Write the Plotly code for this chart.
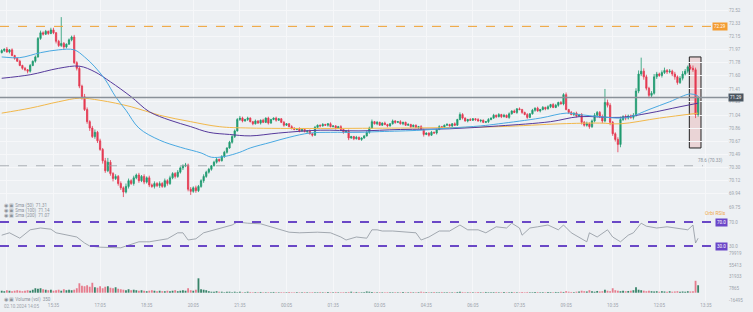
import plotly.graph_objects as go
from plotly.subplots import make_subplots

# ---------------- data ----------------
close = [
    71.95, 71.97, 71.93, 71.96, 71.88, 71.84, 71.80, 71.74, 71.70, 71.68,
    71.66, 71.74, 71.80, 71.86, 72.12, 72.20, 72.18, 72.22, 72.19, 72.24,
    72.20, 72.08, 72.02, 72.05, 72.00, 72.04, 72.10, 72.14, 71.78, 71.70,
    71.45, 71.30, 71.12, 70.95, 70.86, 70.74, 70.80, 70.68, 70.56, 70.40,
    70.26, 70.38, 70.22, 70.15, 70.18, 70.08, 70.02, 69.96, 70.04, 70.12,
    70.08, 70.16, 70.20, 70.12, 70.18, 70.10, 70.16, 70.06, 70.04, 70.08,
    70.05, 70.08, 70.04, 70.12, 70.08, 70.16, 70.22, 70.18, 70.24, 70.30,
    70.33, 70.34, 70.00, 69.97, 70.02, 69.98, 70.04, 70.12, 70.18, 70.24,
    70.28, 70.33, 70.38, 70.42, 70.40, 70.46, 70.52, 70.58, 70.66, 70.74,
    70.82, 70.98, 71.00, 70.96, 70.98, 71.00, 70.95, 70.92, 70.96, 70.93,
    70.97, 70.94, 71.00, 70.93, 70.98, 71.00, 70.97, 70.99, 70.94, 70.90,
    70.92, 70.88, 70.86, 70.84, 70.85, 70.82, 70.84, 70.81, 70.82, 70.78,
    70.76, 70.87, 70.90, 70.89, 70.91, 70.90, 70.92, 70.88, 70.89, 70.86,
    70.88, 70.84, 70.80, 70.82, 70.72, 70.74, 70.71, 70.73, 70.70, 70.72,
    70.75, 70.80, 70.86, 70.95, 70.92, 70.94, 70.90, 70.93, 70.91, 70.89,
    70.92, 70.96, 70.94, 70.95, 70.92, 70.94, 70.90, 70.91, 70.88, 70.90,
    70.87, 70.88, 70.84, 70.77, 70.79, 70.76, 70.80, 70.79, 70.84, 70.88,
    70.87, 70.90, 70.91, 70.89, 70.92, 70.90, 70.98, 71.05, 71.00, 70.96,
    70.98, 70.97, 70.99, 70.98, 70.96, 70.97, 70.94, 70.95, 70.98, 71.00,
    71.04, 71.02, 71.05, 71.02, 71.04, 71.01, 71.06, 71.10, 71.08, 71.13,
    71.12, 71.08, 71.05, 71.01, 71.06, 71.11, 71.14, 71.10, 71.12, 71.15,
    71.13, 71.16, 71.19, 71.15, 71.18, 71.22, 71.20, 71.33, 71.12, 71.08,
    71.05, 71.07, 71.03, 71.05, 70.94, 70.90, 70.92, 70.88, 70.96, 71.04,
    71.08, 71.02, 70.96, 71.22, 71.18, 70.94, 70.78, 70.70, 70.63, 70.98,
    71.02, 71.00, 71.03, 71.01, 71.04, 71.38, 71.62, 71.66, 71.58, 71.42,
    71.32, 71.35, 71.58, 71.62, 71.60, 71.64, 71.67, 71.65, 71.66, 71.62,
    71.58, 71.50, 71.56, 71.62, 71.66, 71.72, 71.70, 71.68, 71.05, 71.29,
]
first_open = 71.92

# wick lengths above / below the body, in hundredths
wick_up = [
    2, 1, 3, 1, 2, 1, 1, 2, 1, 2, 1, 2, 1, 2, 2, 3, 2, 2, 1, 3, 3, 1, 2, 37, 2, 1, 2, 2, 3, 2,
    3, 2, 4, 3, 2, 3, 4, 2, 3, 2, 4, 6, 3, 2, 3, 2, 3, 2, 4, 3, 2, 3, 2, 3, 2, 3, 2, 3, 2, 3,
    2, 3, 2, 3, 2, 3, 2, 2, 3, 2, 2, 3, 2, 3, 2, 3, 2, 2, 3, 2, 2, 1, 2, 2, 1, 2, 2, 1, 2, 2,
    2, 2, 3, 2, 1, 2, 1, 1, 2, 1, 1, 2, 1, 2, 1, 1, 2, 1, 1, 2, 1, 1, 2, 1, 1, 2, 1, 1, 1, 2,
    1, 2, 1, 1, 2, 1, 1, 2, 1, 1, 1, 2, 1, 1, 2, 1, 1, 2, 1, 1, 1, 2, 2, 3, 1, 2, 1, 1, 2, 1,
    1, 2, 1, 1, 2, 1, 1, 2, 1, 1, 1, 1, 2, 1, 1, 1, 2, 1, 1, 2, 1, 1, 2, 1, 1, 2, 1, 3, 2, 1,
    1, 2, 1, 1, 2, 1, 1, 1, 2, 1, 2, 1, 2, 1, 2, 1, 2, 1, 2, 1, 2, 1, 1, 2, 1, 2, 1, 2, 1, 2,
    1, 2, 1, 2, 2, 1, 2, 2, 3, 1, 2, 1, 2, 1, 2, 2, 3, 2, 2, 3, 2, 2, 3, 19, 4, 3, 2, 2, 3, 4,
    2, 3, 2, 2, 3, 4, 5, 19, 4, 3, 2, 3, 4, 3, 2, 3, 4, 2, 3, 2, 3, 2, 3, 4, 3, 2, 3, 4, 3, 2,
]
wick_dn = [
    1, 2, 1, 2, 1, 2, 1, 1, 2, 2, 3, 2, 1, 2, 1, 2, 2, 1, 2, 1, 2, 3, 2, 2, 3, 2, 1, 2, 2, 3,
    3, 4, 2, 3, 4, 2, 3, 3, 2, 4, 3, 2, 3, 4, 2, 3, 3, 7, 2, 3, 2, 3, 2, 3, 2, 3, 2, 3, 2, 3,
    2, 3, 2, 2, 3, 2, 2, 3, 2, 2, 3, 2, 3, 5, 2, 3, 2, 2, 3, 2, 2, 2, 1, 2, 2, 1, 2, 2, 1, 2,
    2, 1, 2, 2, 1, 2, 1, 2, 1, 1, 2, 1, 1, 2, 1, 1, 2, 1, 1, 2, 1, 1, 2, 1, 1, 2, 1, 1, 2, 1,
    2, 1, 1, 2, 1, 1, 2, 1, 1, 2, 1, 1, 2, 1, 3, 1, 2, 1, 1, 2, 1, 1, 2, 1, 1, 2, 1, 1, 1, 2,
    1, 1, 2, 1, 1, 2, 1, 1, 2, 1, 1, 2, 1, 3, 1, 2, 1, 1, 2, 1, 1, 2, 1, 1, 2, 1, 1, 1, 2, 1,
    2, 1, 1, 2, 1, 2, 1, 1, 2, 1, 1, 2, 1, 2, 1, 1, 2, 1, 1, 2, 1, 2, 1, 2, 1, 1, 2, 1, 2, 1,
    2, 1, 2, 1, 1, 2, 1, 2, 1, 2, 1, 2, 2, 1, 3, 2, 2, 3, 2, 2, 3, 2, 3, 2, 3, 4, 3, 3, 11, 4,
    2, 3, 2, 2, 3, 2, 3, 3, 4, 3, 4, 3, 2, 3, 2, 3, 2, 3, 2, 3, 4, 3, 2, 3, 2, 3, 2, 3, 5, 3,
]

# volume per candle, thousands
vol_k = [
    4, 3, 5, 4, 3, 4, 5, 4, 3, 4, 5, 4, 6, 9, 8, 9, 7, 6, 5, 6, 4, 5, 6, 4, 7, 5, 6, 5, 6, 9,
    19, 14, 13, 15, 12, 20, 11, 10, 13, 9, 12, 13, 10, 9, 11, 8, 7, 6, 5, 7, 5, 6, 5, 4, 5, 4, 3, 4, 5, 4,
    3, 4, 3, 3, 4, 3, 4, 5, 3, 4, 5, 4, 9, 5, 4, 6, 29, 7, 6, 5, 3, 2, 2, 3, 2, 2, 1, 2, 2, 1,
    2, 1, 2, 1, 1, 2, 1.5, 1, 1.2, 1, 1.5, 1, 1, 1.2, 1, 1.5, 1, 1, 1.2, 1, 1, 1.5, 1, 1, 1.2, 1, 1, 1.3, 1, 1,
    1.2, 1, 1, 1.5, 1, 1, 1.2, 1, 1, 1.5, 1, 1, 1.2, 1, 1.5, 2, 1, 1.5, 1, 1, 1.2, 2.5, 2, 1.5, 1, 1, 1.2, 1, 1, 1.2,
    1, 1, 1.2, 1, 1, 1.2, 1, 1, 1.5, 1, 1, 1.2, 2, 1.5, 1.2, 1, 1, 1.2, 1, 1, 1.5, 1, 1, 1.2, 1, 1, 1.5, 2, 1.5, 1,
    1, 1.2, 1, 1, 1.2, 1, 1, 1.5, 1, 1, 1.2, 1.5, 1, 1, 1.2, 1, 1, 1.5, 1.2, 1, 1, 1.2, 1, 1.5, 1, 1, 1.2, 1.5, 1, 1.2,
    1, 1.5, 1.2, 1, 1.5, 1.2, 2, 1.5, 3, 2, 1.5, 1.2, 2, 2.5, 4, 3, 2.5, 5, 3, 2, 3.5, 2.5, 3, 6, 4, 3, 9, 5, 4, 3,
    4, 3, 3.5, 4, 5, 11, 6, 5, 4, 3, 4, 3, 2.5, 3, 2, 3, 2.5, 2, 3, 2, 2.5, 3, 2, 2.5, 2, 3, 2.5, 3, 24, 15,
]

# moving averages (sampled along the candles)
ma_fast_idx = [0, 7, 15, 22, 28, 32, 36, 40, 44, 48, 53, 61, 69, 77, 81, 86, 92, 96, 104, 111,
               119, 127, 138, 146, 162, 173, 185, 192, 208, 218, 223, 231, 239, 243, 250, 258, 266, 269]
ma_fast = [71.86, 71.85, 71.92, 71.96, 71.96, 71.86, 71.72, 71.54, 71.30, 71.11,
           70.86, 70.69, 70.59, 70.51, 70.45, 70.46, 70.52, 70.58, 70.66, 70.73,
           70.79, 70.80, 70.80, 70.81, 70.83, 70.86, 70.89, 70.92, 71.00, 71.07,
           71.05, 71.02, 71.00, 71.02, 71.12, 71.23, 71.34, 71.31]
ma_mid_idx = [0, 11, 22, 30, 36, 42, 50, 57, 65, 73, 80, 88, 96, 107, 123, 138, 154, 173, 192,
              212, 223, 239, 250, 262, 269]
ma_mid = [71.56, 71.61, 71.70, 71.73, 71.65, 71.51, 71.30, 71.09, 70.97, 70.88, 70.80, 70.77,
          70.75, 70.79, 70.83, 70.82, 70.84, 70.85, 70.89, 70.95, 71.02, 71.01, 71.07, 71.16, 71.21]
ma_slow_idx = [0, 11, 22, 30, 38, 50, 61, 73, 84, 96, 154, 192, 216, 231, 239, 254, 269]
ma_slow = [71.07, 71.14, 71.23, 71.28, 71.25, 71.16, 71.04, 70.95, 70.88, 70.86, 70.86, 70.88,
           70.92, 70.93, 70.92, 71.00, 71.07]

# RSI
rsi_idx = [0, 3, 7, 11, 15, 19, 21, 25, 29, 32, 34, 38, 42, 46, 48, 51, 53, 57, 61, 64,
           68, 70, 72, 75, 78, 82, 85, 89, 91, 95, 100, 104, 107, 111, 115, 119, 122, 127, 131, 133,
           137, 141, 143, 145, 147, 151, 158, 160, 162, 165, 169, 173, 177, 180, 184, 187, 191, 195, 197, 200,
           201, 204, 207, 211, 215, 217, 220, 223, 226, 227, 230, 234, 236, 239, 242, 244, 247, 249, 253, 257,
           261, 265, 267, 268, 269]
rsi = [48, 52, 43, 57, 60, 58, 52, 48, 45, 35, 30, 28, 28, 27, 30, 35, 37, 37, 40, 42,
       52, 52, 40, 42, 52, 57, 60, 65, 70, 68, 67, 62, 57, 53, 52, 53, 53, 52, 45, 40,
       45, 43, 57, 57, 55, 55, 52, 52, 40, 45, 55, 55, 65, 57, 57, 52, 62, 60, 68, 60,
       48, 60, 62, 65, 57, 65, 52, 45, 37, 52, 45, 57, 45, 37, 48, 52, 68, 63, 60, 62,
       60, 57, 65, 35, 43]
rsi_levels = [70, 30]

# levels
level_resist = 72.29
level_fib = 70.33
fib_label = "78.6 (70.33)"
box_price = [70.58, 71.86]

# axis ticks
price_ticks = [72.52, 72.33, 72.15, 71.97, 71.78, 71.60, 71.41, 71.23, 71.04,
               70.86, 70.67, 70.49, 70.30, 70.12, 69.94, 69.75]
vol_ticks = [79919, 55413, 31933, 7865, -16495]
time_idx = [2, 20, 38, 56, 74, 92, 110, 128, 146, 164, 182, 200, 218, 236, 254, 272]
time_lbl = ["", "15:35", "17:05", "18:35", "20:05", "21:35", "00:05", "01:35", "03:05",
            "04:35", "06:05", "07:35", "09:05", "10:35", "12:05", "13:35"]
first_time_lbl = "02.10.2024 14:05"
legend_lines = ["Sma (50)  71.31", "Sma (100)  71.14", "Sma (200)  71.07"]
vol_legend = "Volume (vol)  350"

# ---------------- derived ----------------
n = len(close)
xs = list(range(n))
opens = [first_open] + close[:-1]
highs = [max(o, c) + u / 100 for o, c, u in zip(opens, close, wick_up)]
lows = [min(o, c) - d / 100 for o, c, d in zip(opens, close, wick_dn)]
vols = [v * 1000 for v in vol_k]
last_price = close[-1]

UP = "#1f9b70"
DN = "#e43a52"
VUP = "rgba(35,120,90,0.9)"
VDN = "rgba(228,95,115,0.8)"
BG = "#edf0f3"
GRID = "#f6f7f9"
TXT = "#9ca3ab"
FONT = "Roboto"
FS = 4.5

W, H = 753, 312
ML, MR, MT, MB = 0, 25, 0, 11
PW, PH = W - ML - MR, H - MT - MB


def py(p):  # pixel from top -> paper y
    return 1 - p / PH


def px(p):  # pixel from left -> paper x
    return p / PW


fig = make_subplots(rows=3, cols=1, shared_xaxes=True, vertical_spacing=0)

fig.add_trace(go.Candlestick(
    x=xs, open=opens, high=highs, low=lows, close=close,
    increasing=dict(line=dict(color=UP, width=0.8), fillcolor=UP),
    decreasing=dict(line=dict(color=DN, width=0.8), fillcolor=DN),
    whiskerwidth=0, showlegend=False, hoverinfo="skip"), row=1, col=1)

for mx, my, col in [(ma_slow_idx, ma_slow, "#f2b84b"),
                    (ma_mid_idx, ma_mid, "#563a9c"),
                    (ma_fast_idx, ma_fast, "#49a9e2")]:
    fig.add_trace(go.Scatter(x=mx, y=my, mode="lines",
                             line=dict(color=col, width=1, shape="spline", smoothing=1.0),
                             showlegend=False, hoverinfo="skip"), row=1, col=1)

fig.add_trace(go.Scatter(x=rsi_idx, y=rsi, mode="lines",
                         line=dict(color="#8e959e", width=0.8),
                         showlegend=False, hoverinfo="skip"), row=2, col=1)

fig.add_trace(go.Bar(x=xs, y=vols,
                     marker=dict(color=[VUP if c >= o else VDN for o, c in zip(opens, close)],
                                 line=dict(width=0)),
                     showlegend=False, hoverinfo="skip"), row=3, col=1)

# price scale: pixel 10 -> 72.52, pixel 207 -> 69.75
scale = (207 - 10) / (price_ticks[0] - price_ticks[-1])
p_top = price_ticks[0] + 10 / scale
p_bot = p_top - 208 / scale
rsi_scale = (246 - 222) / (rsi_levels[0] - rsi_levels[1])
r_top = rsi_levels[0] + (222 - 208) / rsi_scale
r_bot = rsi_levels[1] - (250 - 246) / rsi_scale
v_scale = 12 / 24200
v_top = (292.7 - 250) / v_scale
v_bot = -(PH - 292.7) / v_scale
idx_per_px = 1 / 2.589
x0 = -1.7 * idx_per_px

tick_font = dict(family=FONT, size=FS, color=TXT)
fig.update_xaxes(range=[x0, x0 + PW * idx_per_px], showgrid=True, gridcolor=GRID, gridwidth=1,
                 zeroline=False, showline=False, ticks="", tickvals=time_idx, ticktext=time_lbl,
                 showticklabels=False, rangeslider_visible=False, tickfont=tick_font)
fig.update_xaxes(showticklabels=True, row=3, col=1)

fig.update_layout(
    width=W, height=H, margin=dict(l=ML, r=MR, t=MT, b=MB),
    paper_bgcolor=BG, plot_bgcolor=BG, bargap=0.3, showlegend=False,
    font=dict(family=FONT, size=FS, color=TXT),
    yaxis=dict(domain=[py(208), 1], range=[p_bot, p_top], side="right", tickvals=price_ticks,
               ticktext=[f"{v:.2f}" for v in price_ticks], showgrid=True, gridcolor=GRID,
               zeroline=False, ticks="", tickfont=tick_font),
    yaxis2=dict(domain=[py(250), py(208)], range=[r_bot, r_top], side="right", tickvals=rsi_levels,
                ticktext=[f"{v:.1f}" for v in rsi_levels], showgrid=False, zeroline=False,
                ticks="", tickfont=tick_font),
    yaxis3=dict(domain=[0, py(250)], range=[v_bot, v_top], side="right", tickvals=vol_ticks,
                ticktext=[str(v) for v in vol_ticks], showgrid=False, zeroline=False,
                ticks="", tickfont=tick_font),
)

shapes = [
    dict(type="line", xref="paper", yref="y", x0=0, x1=px(715), y0=level_resist, y1=level_resist,
         line=dict(color="#f0a030", width=1, dash="dash")),
    dict(type="line", xref="paper", yref="y", x0=0, x1=1, y0=last_price, y1=last_price,
         line=dict(color="#8a9199", width=1.5)),
    dict(type="line", xref="paper", yref="y", x0=0, x1=px(703), y0=level_fib, y1=level_fib,
         line=dict(color="#9aa0a7", width=0.8, dash="dash")),
    dict(type="rect", xref="x", yref="y", x0=n - 4.4, x1=n + 0.1, y0=box_price[0], y1=box_price[1],
         line=dict(color="#222222", width=1), fillcolor="rgba(225,140,140,0.28)", layer="below"),
]
for lv in rsi_levels:
    shapes.append(dict(type="line", xref="paper", yref="y2", x0=0, x1=px(719), y0=lv, y1=lv,
                       line=dict(color="#6a48c6", width=2, dash="dash")))
fig.update_layout(shapes=shapes)

ann = []
for i, t in enumerate(legend_lines):
    ann.append(dict(xref="paper", yref="paper", x=px(2), y=py(205 + 5.3 * i), text="◉ ▣ " + t,
                    showarrow=False, xanchor="left", yanchor="middle",
                    font=dict(family=FONT, size=FS, color="#8c939b")))
ann.append(dict(xref="paper", yref="paper", x=px(2), y=py(299), text="◉ ▣ " + vol_legend,
                showarrow=False, xanchor="left", yanchor="middle",
                font=dict(family=FONT, size=FS, color="#8c939b")))
ann.append(dict(xref="paper", yref="paper", x=px(2), y=py(306.5), text=first_time_lbl,
                showarrow=False, xanchor="left", yanchor="middle", font=tick_font))
ann.append(dict(xref="paper", yref="paper", x=px(715), y=py(213), text="Orbi RSIs",
                showarrow=False, xanchor="center", yanchor="middle",
                font=dict(family=FONT, size=FS + 0.5, color="#f0a848")))
ann.append(dict(xref="paper", yref="y", x=1, y=level_resist, text=f"{level_resist:.2f}",
                showarrow=False, xanchor="right", yanchor="middle", bgcolor="#f39c32", borderpad=1,
                font=dict(family=FONT, size=FS, color="white")))
ann.append(dict(xref="paper", yref="y", x=1, y=last_price, text=f"{last_price:.2f}",
                showarrow=False, xanchor="left", yanchor="middle", bgcolor="#4b5661", borderpad=1,
                font=dict(family=FONT, size=FS, color="white")))
ann.append(dict(xref="paper", yref="y", x=px(725), y=level_fib, text=fib_label,
                showarrow=False, xanchor="right", yanchor="bottom",
                font=dict(family=FONT, size=FS, color="#8c939b")))
for lv in rsi_levels:
    ann.append(dict(xref="paper", yref="y2", x=1, y=lv, text=f"{lv:.1f}",
                    showarrow=False, xanchor="right", yanchor="middle", bgcolor="#6b46c8",
                    borderpad=1, font=dict(family=FONT, size=FS, color="white")))
fig.update_layout(annotations=ann)

fig.write_html("out.html")
